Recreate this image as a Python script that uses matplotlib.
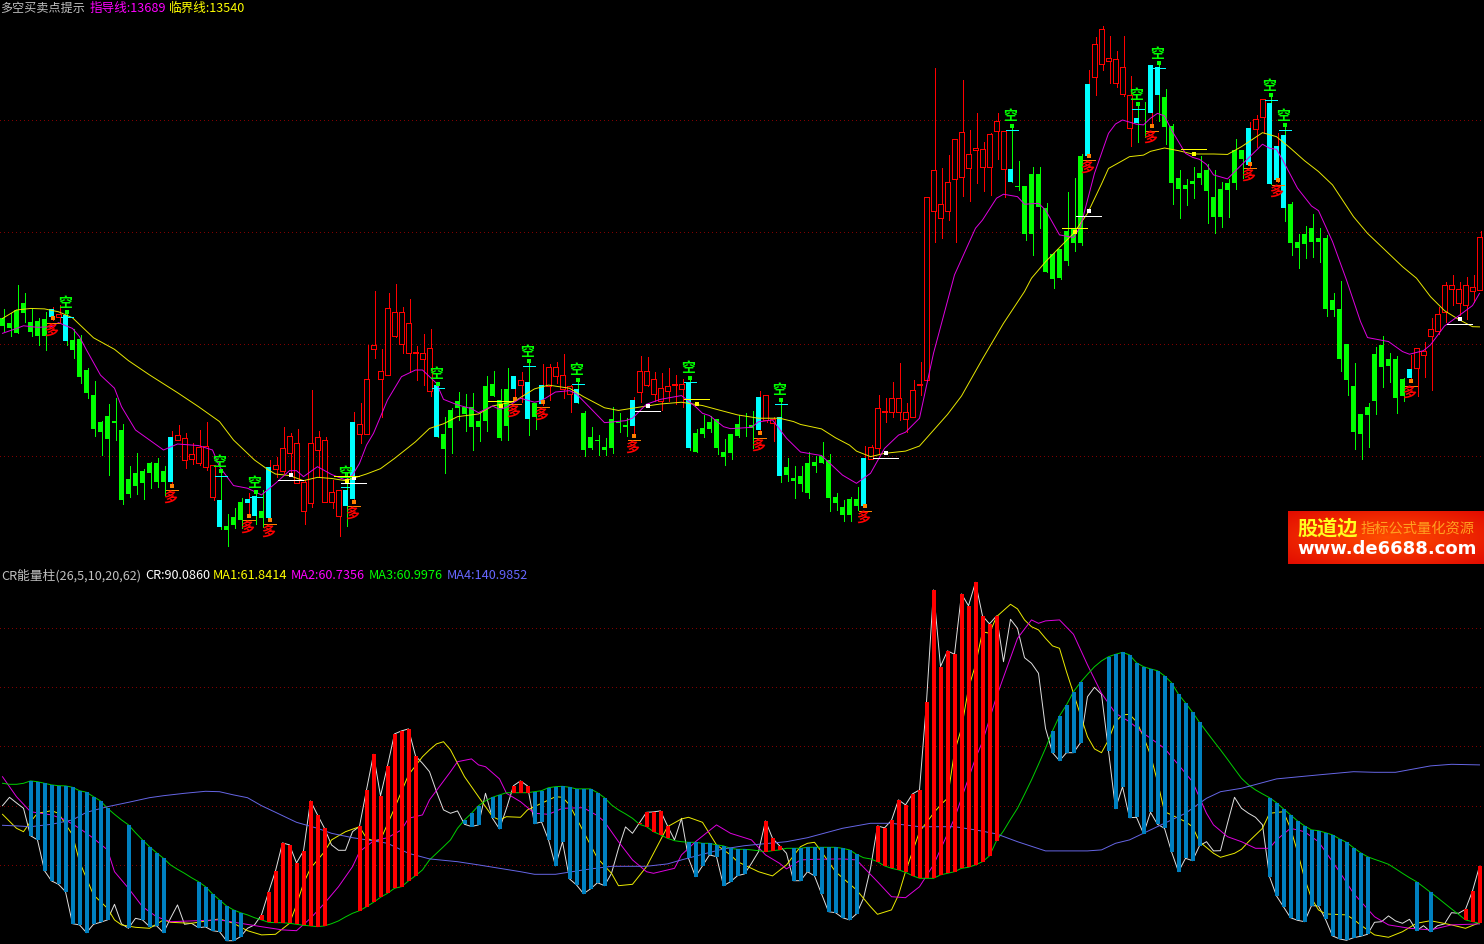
import matplotlib
matplotlib.use("Agg")
import matplotlib.pyplot as plt
import numpy as np

plt.rcParams['font.family'] = ['Noto Sans CJK SC', 'DejaVu Sans']

W, H = 1484, 944
split_px = 565

# K line values, one per bar
highs = [13616,13601,13725,13688,13616,13575,13602,13625,13635,13605,
13526,13500,13350,13293,13113,13190,13215,13100,12911,12970,
12898,12929,12947,12911,13068,13095,13058,13014,13073,13109,
12914,12893,12695,12722,12767,12788,12803,12803,12938,12950,
13085,13058,13078,12848,13253,13068,13040,12848,12803,12885,
13153,13193,13455,13698,13437,13688,13730,13625,13663,13451,
13504,13526,13283,13131,13172,13244,13235,13240,13148,13316,
13339,13258,13352,13316,13334,13385,13194,13370,13370,13379,
13415,13276,13292,13159,13087,13051,13037,13177,13150,13127,
13223,13406,13401,13334,13330,13352,13319,13303,13313,13078,
13141,13138,13123,13033,13055,13141,
13148,13157,13247,13230,13133,13216,12947,12911,12911,12974,
12956,13019,12963,12790,12758,12772,12817,13001,13004,13230,
13217,13289,13374,13193,13298,13377,14120,14702,14250,14310,
14381,14648,14423,14498,14369,14408,14498,14417,14444,14283,
14171,14256,14256,14094,13870,13888,14144,14207,14315,14693,
14843,14891,14846,14779,14846,14666,14543,14550,14717,14730,
14608,14452,14243,14204,14256,14305,14268,14243,14189,14204,
14383,14334,14459,14490,14564,14587,14408,14450,14098,13955,
13991,14045,13982,13951,13690,13742,13458,13375,13145,13193,
13447,13496,13418,13406,13307,13412,13440,13468,13577,13625,
13740,13770,13738,13760,13770,13969]

body_top = [13575,13553,13613,13644,13559,13563,13572,13616,13593,13592,
13478,13482,13343,13230,13109,13136,13113,13073,12853,12880,
12889,12925,12925,12889,13041,13049,13035,12963,12995,13000,
12914,12758,12641,12681,12749,12763,12776,12708,12907,12914,
12991,13045,13013,12838,13013,13040,13027,12793,12801,12803,
13109,13098,13301,13454,13337,13621,13603,13603,13553,13424,
13418,13441,13276,13055,13163,13204,13177,13177,13113,13271,
13280,13208,13258,13316,13296,13289,13194,13276,13355,13355,
13319,13270,13256,13150,13041,13028,12997,13123,13109,13096,
13208,13337,13337,13301,13261,13270,13278,13278,13289,13060,
13082,13109,13123,12974,13055,13100,
13097,13094,13221,13230,13122,13132,12907,12857,12866,12925,
12929,12956,12938,12772,12727,12763,12763,12947,12995,13170,
13159,13216,13216,13153,13251,13278,14120,14241,14088,14188,
14381,14413,14313,14340,14336,14404,14462,14417,14248,14171,
14171,14225,14225,14072,13865,13888,13969,13978,14306,14630,
14810,14876,14749,14743,14708,14582,14478,14501,14717,14705,
14570,14440,14208,14177,14193,14230,14243,14122,14156,14186,
14334,14334,14430,14472,14561,14543,14353,14399,14090,13919,
13955,13982,13939,13939,13658,13616,13458,13271,13145,13176,
13415,13454,13394,13394,13302,13346,13440,13427,13528,13597,
13727,13727,13706,13727,13718,13942]

body_bot = [13541,13530,13511,13601,13514,13497,13497,13581,13581,13475,
13433,13313,13241,13079,13066,13034,13104,12758,12785,12821,
12835,12880,12839,12839,12839,13029,12936,12944,12923,12908,
12773,12636,12623,12645,12668,12745,12686,12677,12677,12896,
12890,12971,12836,12710,12743,12985,12750,12750,12687,12731,
12763,13056,13056,13439,13301,13322,13497,13458,13421,13420,
13394,13247,13042,12988,13082,13172,13145,13087,13087,13113,
13226,13037,13091,13258,13276,13122,13131,13190,13270,13315,
13256,13233,13194,12983,12992,13023,12983,12992,13106,13087,
13091,13246,13277,13233,13202,13247,13275,13259,12992,12974,
13055,13078,12992,12951,12970,13046,
13094,13082,13073,13118,13106,12866,12871,12845,12830,12790,
12911,12925,12767,12745,12691,12691,12731,12731,12944,12990,
13155,13153,13153,13124,13133,13276,13297,14057,14026,14057,
14204,14213,14250,14331,14255,14255,14417,14246,14189,14168,
13955,13955,14076,13784,13753,13756,13833,13915,13915,14306,
14663,14720,14732,14636,14585,14432,14456,14498,14500,14580,
14435,14186,14156,14159,14182,14208,14147,14030,14030,14152,
14186,14291,14264,14428,14480,14182,14198,14073,13913,13892,
13908,13921,13918,13618,13613,13391,13300,13063,13055,13140,
13204,13358,13362,13217,13227,13307,13354,13409,13496,13517,
13604,13706,13643,13634,13697,13702]

lows = [13520,13497,13511,13561,13497,13455,13433,13568,13553,13455,
13398,13286,13217,13048,12960,12870,13028,12742,12772,12785,
12763,12812,12816,12781,12816,13028,12902,12920,12915,12893,
12758,12628,12551,12632,12632,12691,12650,12635,12665,12863,
12878,12878,12833,12650,12726,12863,12750,12722,12596,12641,
12750,13013,13056,13398,13133,13322,13493,13418,13336,13298,
13276,13228,13042,12880,12970,13118,13068,12983,13023,13068,
13226,13028,13028,13215,13199,13051,13078,13186,13208,13283,
13219,13154,13193,12956,12988,12960,12960,12970,13064,13046,
13051,13199,13271,13202,13163,13202,13189,13177,12983,12974,
13041,13064,12965,12915,12943,13041,
13046,12992,13058,13108,13025,12839,12844,12767,12798,12767,
12884,12925,12708,12713,12664,12664,12713,12725,12941,12968,
13109,13130,13116,13063,13133,13230,13297,13919,13937,14018,
13919,14126,14103,14184,14148,14130,14293,14121,14189,14153,
13928,13860,13982,13784,13712,13753,13816,13878,13906,14300,
14581,14693,14633,14618,14576,14353,14370,14390,14438,14465,
14360,14090,14026,14086,14117,14180,14003,13960,13987,14030,
14158,14207,14250,14348,14408,14182,14190,14013,13859,13800,
13847,13852,13829,13586,13586,13339,13229,12986,12943,12995,
13145,13266,13289,13150,13203,13290,13226,13312,13253,13505,
13559,13636,13590,13572,13648,13702]

# bars that closed up (hollow red), the rest are green
red_bars = [8] + list(range(25, 31)) + list(range(39, 49)) + list(range(51, 62)) + [74] + \
    list(range(78, 82)) + list(range(91, 98)) + [109, 110] + list(range(124, 144)) + \
    list(range(156, 162)) + [179, 180] + list(range(202, 212))
# signal bars painted cyan
cyan_up = [7, 24, 35, 38, 50, 73, 77, 90, 108, 123, 155, 164, 178, 182, 201]
cyan_down = [9, 31, 36, 49, 62, 75, 82, 98, 111, 144, 162, 165, 181, 183]

# 空 / 多 signal levels
kong_idx = cyan_down
kong_level = [13581, 12865, 12770, 12815, 13260, 13360, 13278, 13287, 13188, 14421, 14516, 14703, 14560, 14424]
duo_idx = cyan_up
duo_level = [13553, 12801, 12666, 12648, 12729, 13189, 13175, 13026, 13036, 12710, 14286, 14418, 14250, 14175, 13271]

# crossing marks
white_idx = [41, 50, 92, 126, 155, 208]
white_level = [12869, 12855, 13180, 12968, 14057, 13571]
yellow_idx = [49, 71, 99, 153, 170]
yellow_level = [12845, 13181, 13189, 13962, 14315]

guide_idx = [0,2,3,5,7,8,10,11,12,14,16,17,19,21,23,25,28,30,31,33,35,37,39,41,42,43,45,47,49,50,51,52,
    53,55,57,59,60,62,63,65,67,68,70,71,72,74,76,77,79,81,82,84,86,89,90,92,94,97,99,100,101,103,104,105,
    107,108,110,112,114,117,120,122,124,126,128,129,131,133,136,139,140,142,143,145,146,148,149,151,153,154,156,
    157,158,159,160,162,163,164,165,166,167,169,170,171,172,173,175,177,180,181,182,183,185,187,188,190,192,194,195,
    198,200,201,203,204,206,208,210,211]
guide_line = [13508,13530,13542,13535,13538,13556,13530,13493,13433,13320,13261,13178,13073,13028,12983,13010,13003,12983,12908,12823,12811,12781,12833,12890,12890,12863,12908,12873,12848,12870,12923,13005,
    13058,13208,13313,13343,13343,13283,13211,13186,13169,13151,13181,13166,13175,13216,13198,13205,13244,13250,13235,13171,13106,13115,13126,13189,13211,13228,13178,13148,13138,13088,13079,13081,
    13085,13110,13118,13036,12974,12958,12870,12833,12878,12990,13050,13063,13126,13418,13771,13981,14018,14116,14134,14123,14089,14093,14063,13951,13939,13988,14228,
    14318,14408,14450,14468,14449,14446,14476,14498,14486,14423,14318,14300,14291,14268,14221,14203,14266,14359,14341,14336,14281,14161,14081,14060,13921,13748,13561,13489,
    13471,13426,13414,13430,13456,13541,13586,13633,13688]

crit_idx = [0,2,4,6,8,10,13,16,18,21,24,25,28,31,33,36,38,39,41,43,45,47,49,50,52,
    54,56,59,61,63,65,68,70,73,76,78,81,83,86,88,91,94,97,100,102,105,
    108,111,113,114,117,119,121,122,124,126,129,131,135,137,140,143,146,147,149,153,155,
    157,158,160,161,163,164,166,168,170,173,175,177,180,182,184,186,188,190,193,195,198,200,202,204,206,208,210,211]
crit_line = [13575,13613,13620,13618,13605,13578,13488,13436,13385,13321,13261,13241,13178,13111,13028,12938,12893,12875,12868,12845,12860,12855,12845,12855,12875,
    12899,12945,13020,13080,13101,13133,13145,13181,13200,13258,13275,13261,13223,13173,13161,13176,13190,13198,13183,13166,13141,
    13126,13126,13111,13098,13078,13038,13005,12978,12953,12968,12978,13001,13143,13226,13393,13553,13696,13756,13830,13958,14048,
    14180,14250,14285,14303,14310,14327,14342,14330,14315,14315,14313,14348,14411,14393,14341,14285,14236,14176,14033,13958,13868,13808,13756,13673,13610,13571,13538,13537]

# CR panel
cr = [120.4,124.6,121.8,119.1,105.4,103.3,87.9,82.8,81.1,77.4,
61.4,60.8,56.9,61.1,62.1,63.3,71.1,61.3,59.1,64.1,
63.3,60.0,60.4,56.9,64.1,70.8,61.1,61.6,59.4,59.8,
57.9,57.4,52.9,52.9,54.9,59.1,60.8,65.8,77.1,87.8,
101.8,100.8,91.8,97.8,122.8,115.8,109.1,100.8,98.1,98.1,
107.4,110.1,128.3,146.1,125.3,140.3,156.3,157.8,158.8,145.3,
141.6,137.4,127.4,118.3,116.6,117.8,111.1,110.0,110.8,126.6,
114.1,108.8,119.1,130.4,132.8,130.3,111.4,112.3,103.3,90.3,
102.4,83.8,80.8,76.4,78.8,81.9,80.4,86.6,99.1,109.8,
106.6,111.9,117.1,117.3,117.8,110.3,103.3,114.1,94.1,84.9,
90.3,95.8,94.9,80.4,82.4,85.4,86.3,91.6,97.4,112.8,
104.1,100.4,96.6,82.9,82.9,87.4,85.3,76.3,67.4,66.9,
64.4,63.3,66.3,74.1,89.1,110.3,109.3,113.1,123.3,120.8,
126.3,128.3,172.3,228.3,190.0,197.8,196.1,226.3,220.4,232.1,
215.3,211.3,215.3,192.4,213.6,209.1,194.4,191.6,186.6,159.1,
146.9,142.9,146.9,146.9,151.9,174.9,179.6,176.1,147.9,118.9,
129.9,114.4,114.6,106.4,117.1,111.1,109.1,97.4,87.4,94.1,
92.9,100.4,102.4,97.8,97.9,111.6,124.6,119.1,116.6,114.6,
110.8,84.9,75.3,69.9,64.4,63.1,62.4,70.4,70.3,63.6,
55.3,53.8,53.1,54.4,55.1,56.1,62.1,62.4,65.3,62.8,
61.6,63.6,57.9,60.4,57.4,60.4,61.3,66.9,66.6,68.6,
77.8,90.1]

ma3 = [131.6,131.1,131.1,131.6,132.8,132.4,131.6,130.8,130.4,130.3,
129.6,127.9,127.1,124.9,122.8,119.1,116.1,113.3,110.8,106.9,
103.3,99.9,96.9,94.1,90.8,88.6,86.6,84.4,82.4,79.9,
76.3,73.3,70.3,68.3,66.9,65.8,64.4,63.3,62.1,61.9,
61.9,61.6,61.1,60.6,60.3,59.9,60.3,61.4,62.8,64.8,
66.6,67.9,69.9,72.1,74.6,76.6,79.1,79.9,82.8,85.4,
88.3,93.3,96.6,99.9,103.3,109.1,113.3,116.6,120.4,122.8,
124.6,125.8,126.9,126.9,126.9,126.9,127.4,127.9,129.4,129.9,
130.1,129.6,128.8,128.8,128.8,126.9,124.4,120.8,118.3,116.3,
114.1,111.1,109.9,107.4,105.8,104.1,102.9,102.4,102.1,102.1,
101.6,101.6,100.8,100.3,99.1,98.6,98.6,98.3,97.9,97.4,
97.9,98.3,99.1,99.1,99.1,99.6,99.6,99.6,99.6,99.6,
99.1,98.3,96.1,94.4,93.8,92.4,90.3,89.1,88.3,87.1,
85.4,84.1,84.1,84.1,85.8,86.6,87.4,89.1,89.6,90.8,
92.4,95.3,102.9,107.8,113.6,119.1,126.1,133.3,141.1,149.1,
157.8,165.3,170.8,177.4,182.1,186.1,189.9,192.8,194.9,196.1,
197.1,195.8,191.9,189.9,188.8,187.9,185.3,181.9,176.1,171.8,
167.1,162.1,157.4,152.8,148.3,143.6,138.8,134.1,130.8,128.3,
126.3,124.4,121.9,118.8,115.8,112.8,110.3,108.3,107.9,106.9,
105.8,103.8,102.1,99.4,96.9,94.9,93.6,92.4,91.1,88.9,
86.6,84.4,82.4,79.8,77.1,74.4,71.6,68.8,66.1,63.3,
62.4,61.6]

ma1_idx = [0,2,3,4,5,7,8,10,11,13,15,16,17,19,21,23,24,27,31,33,35,37,39,41,42,43,44,46,47,49,51,52,53,54,56,58,60,61,62,63,64,66,68,70,71,
    72,74,75,77,79,80,81,83,85,87,88,90,92,93,95,97,98,100,102,104,105,107,108,110,112,114,115,116,117,119,122,124,125,127,128,129,131,133,134,135,136,137,138,139,140,141,142,
    144,145,146,147,148,149,150,151,152,153,154,155,156,157,158,159,160,161,162,163,164,165,166,167,169,170,171,173,174,176,177,178,180,181,183,184,185,186,187,188,189,192,193,194,196,198,200,202,204,207,209,211]
ma1 = [116.1,109.1,107.4,112.4,116.6,117.9,116.6,105.8,92.4,75.8,69.1,63.3,60.8,59.6,59.1,63.3,62.1,61.6,63.8,61.6,57.9,55.8,56.1,61.6,70.8,81.6,89.1,97.4,103.3,107.4,109.9,104.1,102.9,103.3,119.1,135.8,144.9,148.3,151.3,152.4,148.3,134.9,124.9,114.9,113.3,
    114.9,114.6,118.3,121.6,124.9,124.6,120.8,107.4,94.1,86.6,80.4,81.1,89.9,96.6,109.9,113.8,114.6,112.1,100.8,95.8,92.4,89.1,87.4,85.3,90.8,99.9,101.6,102.1,97.4,87.4,78.3,69.9,66.1,68.3,75.8,87.4,107.4,116.6,120.8,124.1,147.4,159.1,179.1,190.8,207.4,206.6,214.9,
    221.1,218.8,213.3,209.9,208.3,204.1,200.3,199.1,187.4,176.6,165.8,154.9,148.8,146.9,153.3,162.4,165.8,166.1,162.4,154.9,145.8,132.4,117.4,115.8,112.4,109.9,102.4,96.6,94.6,96.6,98.6,102.4,109.1,116.6,117.4,109.1,97.4,84.1,74.1,68.3,66.3,65.8,63.6,60.8,55.8,54.6,57.4,61.6,62.9,60.8,59.1,61.9]

ma2_idx = [0,2,4,7,9,11,13,15,16,18,20,22,24,27,31,34,37,40,42,44,46,48,50,51,53,55,57,58,60,61,64,65,67,68,69,71,
    72,74,76,78,80,83,85,86,88,90,92,93,96,97,99,102,104,107,109,111,112,114,116,120,122,125,127,129,131,133,136,139,140,142,
    145,147,148,149,151,153,155,157,159,161,163,166,168,170,172,173,175,177,179,181,182,184,186,188,191,193,196,198,201,204,207,211]
ma2 = [134.9,124.9,117.4,115.8,113.3,109.1,104.1,98.3,87.4,79.1,69.9,64.9,62.4,62.8,63.3,61.6,59.9,58.3,57.9,64.1,71.6,79.9,89.9,97.4,102.8,104.4,108.3,114.1,115.8,123.3,137.4,142.4,143.8,140.8,139.9,133.8,
    126.6,122.4,116.6,116.1,119.1,119.4,115.4,112.4,102.4,93.3,87.4,86.6,89.1,95.8,102.4,110.8,106.6,103.3,95.8,91.6,88.8,93.3,93.6,93.8,93.3,82.4,74.9,74.4,79.9,90.8,114.1,144.1,152.4,174.9,
    204.1,213.3,211.6,212.8,213.3,206.1,190.8,176.6,166.6,162.4,156.6,149.1,140.8,132.4,116.6,110.8,104.9,102.4,99.1,99.1,103.3,109.1,107.4,102.4,87.4,76.6,64.9,60.8,59.1,58.3,60.8,61.3]

ma4_idx = [0,2,4,7,10,12,15,18,21,23,26,29,31,33,35,37,39,42,45,47,50,53,55,58,61,65,68,71,74,76,79,83,87,92,95,97,100,103,106,108,112,115,120,124,127,131,136,139,142,
    145,149,155,157,159,161,164,169,172,174,177,182,188,193,196,199,204,207,211]
ma4 = [110.6,110.3,109.9,111.1,113.3,117.1,119.9,122.1,124.4,125.4,126.6,127.6,127.4,125.8,124.4,120.4,117.1,112.1,109.1,106.6,104.4,102.8,101.6,96.6,93.8,92.4,90.8,89.1,87.4,86.1,86.1,88.3,90.1,90.1,91.3,93.3,96.1,98.8,100.4,101.1,102.4,104.4,109.1,111.6,111.6,109.9,109.9,108.3,106.3,
    102.4,97.8,97.8,98.3,101.6,103.3,108.3,116.6,124.1,127.4,129.1,133.8,135.8,137.4,137.1,137.1,140.3,141.1,140.8]

# which bars of the CR column are drawn
hist_bars = list(range(4, 16)) + [18] + list(range(20, 24)) + list(range(28, 35)) + \
    list(range(37, 47)) + list(range(51, 60)) + [66, 67, 68, 70, 71] + list(range(73, 87)) + \
    list(range(91, 96)) + list(range(98, 107)) + list(range(109, 112)) + list(range(113, 123)) + \
    list(range(125, 143)) + list(range(150, 155)) + list(range(158, 172)) + list(range(181, 196)) + \
    [202, 204, 209, 210, 211]

price_grid = [14470, 13966, 13458, 12954]
cr_grid = [209.3, 179.8, 150.3, 120.3, 90.8]

top_texts = [(0, "多空买卖点提示", "#c0c0c0", 8.7), (90, "指导线:13689", "#ff00ff", 9.1), (169, "临界线:13540", "#ffff00", 9.1)]
low_texts = [(1, "CR能量柱(26,5,10,20,62)", "#c0c0c0"), (145, "CR:90.0860", "#ffffff"),
             (213, "MA1:61.8414", "#ffff00"), (291, "MA2:60.7356", "#ff00ff"),
             (369, "MA3:60.9976", "#00ff00"), (447, "MA4:140.9852", "#6666ff")]

BAR_PX = 7.0
x0 = -2.5 / BAR_PX
x1 = (W - 2.5) / BAR_PX
px = 1 / BAR_PX
lw1 = 0.72

fig = plt.figure(figsize=(W / 100, H / 100), dpi=100, facecolor="black")
ax = fig.add_axes([0, 1 - split_px / H, 1, split_px / H])
ax2 = fig.add_axes([0, 0, 1, (H - split_px) / H])
for a in (ax, ax2):
    a.set_facecolor("black")
    a.set_xlim(x0, x1)
    a.set_xticks([])
    a.set_yticks([])
    for s in a.spines.values():
        s.set_visible(False)
ax.set_ylim(12465.5, 15008)
ax2.set_ylim(51.25, 240.75)

idx = np.arange(len(highs))
highs = np.array(highs)
lows = np.array(lows)
body_top = np.array(body_top)
body_bot = np.array(body_bot)

# dotted grid, crisp pixels like the terminal draws them
for g in price_grid:
    ax.axhline(g, color="#800000", lw=lw1, ls=(0, (1, 3)), antialiased=False, zorder=1)
for g in cr_grid:
    ax2.axhline(g, color="#800000", lw=lw1, ls=(0, (1, 3)), antialiased=False, zorder=1)
ax.axhline(12467.75, color="#ff0000", lw=lw1, antialiased=False, zorder=1)
ax2.axhline(51.5, color="#ff0000", lw=lw1, antialiased=False, zorder=1)

is_red = np.zeros(len(idx), bool)
is_red[red_bars] = True
is_red[cyan_up] = True
is_cyan = np.zeros(len(idx), bool)
is_cyan[cyan_up] = True
is_cyan[cyan_down] = True

# wicks sit one pixel right of the body centre
ax.vlines(idx[is_red] + px, lows[is_red], highs[is_red], color="#ff0000", lw=lw1, antialiased=False, zorder=2)
ax.vlines(idx[~is_red] + px, lows[~is_red], highs[~is_red], color="#00ff00", lw=lw1, antialiased=False, zorder=2)

hollow = np.zeros(len(idx), bool)
hollow[red_bars] = True
green = ~is_red & ~is_cyan
ax.bar(idx[hollow], body_top[hollow] - body_bot[hollow], bottom=body_bot[hollow], width=5 * px,
       facecolor="black", edgecolor="#ff0000", lw=lw1, antialiased=False, zorder=3)
ax.bar(idx[green], body_top[green] - body_bot[green], bottom=body_bot[green], width=5 * px,
       color="#00ff00", lw=0, antialiased=False, zorder=3)
ax.bar(idx[is_cyan], body_top[is_cyan] - body_bot[is_cyan], bottom=body_bot[is_cyan], width=5 * px,
       color="#00ffff", lw=0, antialiased=False, zorder=3)

ax.plot(crit_idx, crit_line, color="#e8e800", lw=0.7, zorder=4)
ax.plot(guide_idx, guide_line, color="#e000e0", lw=0.7, zorder=4)

for i, lv in zip(kong_idx, kong_level):
    ax.hlines(lv, i - 5 * px, i + 7 * px, color="#00ffff", lw=lw1, antialiased=False, zorder=5)
    ax.scatter([i + px], [lv + 22], marker="s", s=6, color="#00ff00", lw=0, zorder=5)
    ax.annotate("空", (i, lv), xytext=(0, 14), textcoords="offset pixels", color="#00ff00",
                fontsize=10, fontweight="bold", ha="center", va="center", zorder=6)

for i, lv in zip(duo_idx, duo_level):
    ax.hlines(lv, i - 5 * px, i + 7 * px, color="#ff8000", lw=lw1, antialiased=False, zorder=5)
    ax.scatter([i + px], [lv + 22], marker="s", s=6, color="#ff8000", lw=0, zorder=5)
    ax.annotate("多", (i, lv), xytext=(0, -7), textcoords="offset pixels", color="#ff0000",
                fontsize=10, fontweight="bold", ha="center", va="center", zorder=6)


def cross_marks(ids, levels, col, off):
    for i, lv in zip(ids, levels):
        ax.scatter([i + px], [lv], marker="s", s=7, color=col, lw=0, zorder=7)
        ax.hlines(lv + off, i - 12 * px, i + 0.2 * px, color=col, lw=lw1, antialiased=False, zorder=7)
        ax.hlines(lv + off, i + 1.5 * px, i + 13 * px, color=col, lw=lw1, antialiased=False, zorder=7)


cross_marks(white_idx, white_level, "#ffffff", -22)
cross_marks(yellow_idx, yellow_level, "#ffff00", 22)

# lower panel, columns hide the lines behind them
ax2.plot(idx, cr, color="#e0e0e0", lw=0.7, zorder=3)
ax2.plot(ma1_idx, ma1, color="#ecec00", lw=0.7, zorder=3)
ax2.plot(ma2_idx, ma2, color="#e000e0", lw=0.7, zorder=3)
ax2.plot(idx, ma3, color="#00d000", lw=0.7, zorder=3)
ax2.plot(ma4_idx, ma4, color="#6666e6", lw=0.7, zorder=3)

cr_a = np.array(cr)
ma3_a = np.array(ma3)
hb = np.array(hist_bars)
hist_col = ["#ff0000" if cr_a[i] > ma3_a[i] else "#0080c0" for i in hb]
ax2.bar(hb + 0.5 * px, cr_a[hb] - ma3_a[hb], bottom=ma3_a[hb], width=4 * px, color=hist_col, lw=0,
        antialiased=False, zorder=4)


def put_text(x, y, s, col, **kw):
    fig.text(x / W, 1 - y / H, s, color=col, va="center", ha="left", **kw)


for x, s, c, fs in top_texts:
    put_text(x, 8.5, s, c, fontsize=fs)
for x, s, c in low_texts:
    put_text(x, 575.5, s, c, fontsize=9.15)

# site banner bottom right of the price panel
ban = fig.add_axes([1288 / W, 1 - 564 / H, (W - 1288) / W, 53 / H], zorder=10)
ban.axis("off")
yy, xx = np.mgrid[0:53, 0:196]
d = np.hypot((xx - 98) / 98, (yy - 26) / 26)
img = np.zeros((53, 196, 3))
img[..., 0] = 1.0 - 0.08 * d
img[..., 1] = np.clip(0.30 - 0.18 * d, 0, 1)
ban.imshow(img, aspect="auto")
put_text(1297, 529, "股道边", "#ffff20", fontsize=14.5, fontweight="bold", zorder=11)
put_text(1361, 529, "指标公式量化资源", "#ffa020", fontsize=10.3, zorder=11)
put_text(1297, 549, "www.de6688.com", "#ffffff", fontsize=13.0, fontweight="bold", family="DejaVu Sans", zorder=11)

fig.savefig("out.png", dpi=100, facecolor="black")
